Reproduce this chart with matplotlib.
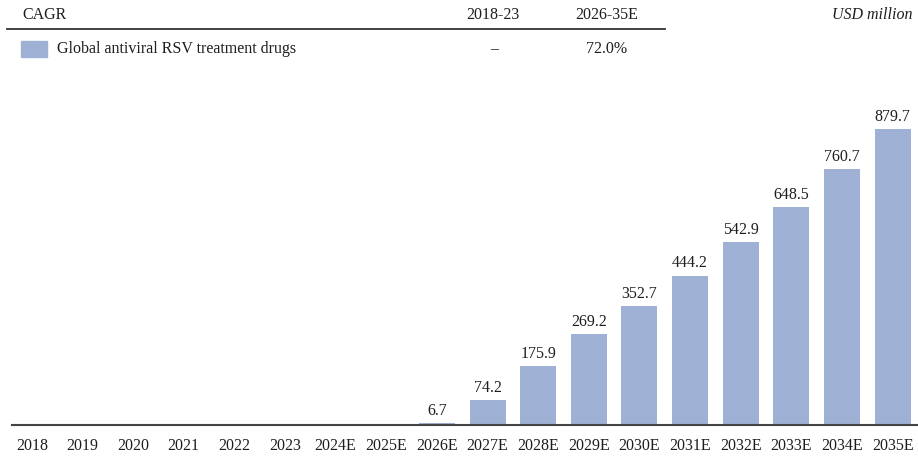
"""RSV antiviral treatment market bar chart with CAGR header."""

import matplotlib
matplotlib.use("Agg")
import matplotlib.pyplot as plt
from matplotlib.patches import Rectangle
from matplotlib.lines import Line2D

years = ["2018", "2019", "2020", "2021", "2022", "2023", "2024E", "2025E", "2026E",
         "2027E", "2028E", "2029E", "2030E", "2031E", "2032E", "2033E", "2034E", "2035E"]
values = [0, 0, 0, 0, 0, 0, 0, 0, 6.7, 74.2, 175.9, 269.2, 352.7, 444.2, 542.9,
          648.5, 760.7, 879.7]
series_name = "Global antiviral RSV treatment drugs"
cagr_periods = ["2018-23", "2026-35E"]
cagr_values = ["–", "72.0%"]

BAR = "#9eb0d3"
INK = "#1e1e1e"
FS = 11.5

plt.rcParams["font.family"] = ["Liberation Serif", "DejaVu Serif"]

W, H = 918, 457
fig = plt.figure(figsize=(W / 100, H / 100), dpi=100)

# axes in pixel coords: left 12, right 918, baseline y=425, top y=80
ax = fig.add_axes([12 / W, 32 / H, (W - 12) / W, 345 / H])
x = list(range(len(years)))
ax.bar(x, values, width=0.71, color=BAR, zorder=2)
for xi, v in zip(x, values):
    if v > 0:
        ax.annotate(f"{v:.1f}", (xi, v), xytext=(0, 3), textcoords="offset points",
                    ha="center", va="bottom", fontsize=FS, color=INK)
ax.set_xlim(-0.39, len(years) - 0.5)
ax.set_ylim(0, 345 / 0.3365)
ax.set_xticks(x)
ax.set_xticklabels(years, fontsize=FS, color=INK)
ax.tick_params(axis="x", length=0, pad=9)
ax.set_yticks([])
for s in ["top", "right", "left"]:
    ax.spines[s].set_visible(False)
ax.spines["bottom"].set_color("#444444")
ax.spines["bottom"].set_linewidth(1.5)

# header table
def px(xp, yp):
    return xp / W, 1 - yp / H

fig.text(*px(22, 15), "CAGR", fontsize=FS, color=INK, va="center", ha="left")
fig.text(*px(493, 15), cagr_periods[0], fontsize=FS, color=INK, va="center", ha="center")
fig.text(*px(607, 15), cagr_periods[1], fontsize=FS, color=INK, va="center", ha="center")
fig.text(*px(912, 15), "USD million", fontsize=FS, color=INK, va="center", ha="right",
         style="italic")
fig.add_artist(Line2D([7 / W, 665 / W], [1 - 29 / H, 1 - 29 / H], color="#333333",
                      linewidth=1.3, transform=fig.transFigure))
fig.add_artist(Rectangle(px(21, 57), 26 / W, 16 / H, color=BAR, transform=fig.transFigure))
fig.text(*px(57, 49), series_name, fontsize=FS, color=INK, va="center", ha="left")
fig.text(*px(494, 49), cagr_values[0], fontsize=FS, color=INK, va="center", ha="center")
fig.text(*px(607, 49), cagr_values[1], fontsize=FS, color=INK, va="center", ha="center")

fig.savefig("out.png", dpi=100)
